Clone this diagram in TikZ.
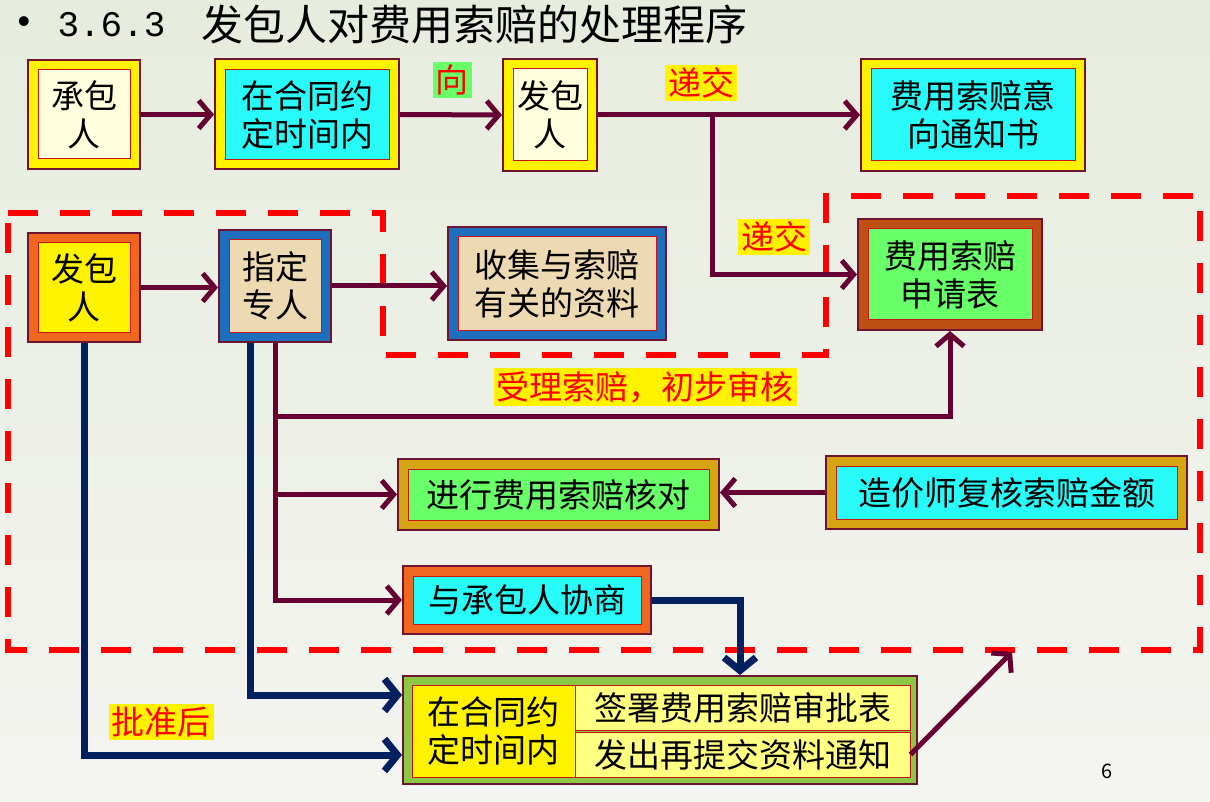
\documentclass[tikz,border=0pt]{standalone}
\usepackage{fontspec}
\newfontfamily\cjk{Noto Sans CJK SC}
\newfontfamily\mono{Liberation Mono}
\newfontfamily\lat{Liberation Sans}
\usetikzlibrary{arrows.meta,positioning}
\definecolor{arrowred}{RGB}{102,0,51}
\definecolor{arrowblue}{RGB}{0,32,96}
\definecolor{edge}{RGB}{110,20,50}
\definecolor{inred}{RGB}{200,20,20}
\definecolor{cream}{RGB}{255,255,222}
\definecolor{aqua}{RGB}{40,250,250}
\definecolor{orangeframe}{RGB}{240,104,32}
\definecolor{blueframe}{RGB}{30,110,190}
\definecolor{parch}{RGB}{238,218,178}
\definecolor{brownframe}{RGB}{190,80,20}
\definecolor{lgreen}{RGB}{104,255,104}
\definecolor{gold}{RGB}{215,165,20}
\definecolor{pzgreen}{RGB}{140,200,70}
\definecolor{lyellow}{RGB}{255,255,130}
\definecolor{bgtop}{RGB}{230,236,222}
\definecolor{bgbot}{RGB}{244,244,240}
\tikzset{
    flow/.style={x=1pt,y=-1pt,font=\cjk\fontsize{33}{38}\selectfont},
    bevbox/.style 2 args={rectangle,align=center,inner sep=0pt,outer sep=11pt,
                     fill=#2,draw=inred,line width=1pt,
                     preaction={draw=edge,line width=22pt},
                     preaction={draw=#1,line width=18pt}},
    cell/.style={rectangle,draw=inred,line width=1pt,inner sep=0pt,align=center},
    tag/.style={fill=yellow,text=red,inner sep=3pt},
    mline/.style={draw=arrowred,line width=5pt,>={Straight Barb[length=12pt,width=28pt]}},
    nline/.style={draw=arrowblue,line width=7pt,>={Straight Barb[length=13pt,width=32pt]}},
    cut/.style={draw=red,line width=6pt,dash pattern=on 30pt off 22pt},
    }
\begin{document}
\begin{tikzpicture}[flow]
            \useasboundingbox (0,0) rectangle (1210,802);
            \fill[top color=bgtop,bottom color=bgbot] (0,0) rectangle (1210,802);

            \node (blt) at (24,25) {\lat\fontsize{36}{36}\selectfont •};
            \node[anchor=west] (num) at (54,25) {\mono\fontsize{36}{40}\selectfont 3.6.3};
            \node[anchor=west] (ttl) at (198,25) {\fontsize{42}{48}\selectfont 发包人对费用索赔的处理程序};

            % dashed area
            \draw[cut] (8,213) -- (383,213) -- (383,355) -- (826,355) -- (826,196)
                -- (1200,196) -- (1200,650) -- (8,650) -- cycle;

            \node[bevbox={yellow}{cream}, minimum width=92pt, minimum height=89pt] (cbr) at (84,114.5) {承包\\人};
            \node[bevbox={yellow}{aqua}, minimum width=164pt, minimum height=90pt] (zdsj) at (307,114.5) {在合同约\\定时间内};
            \node[bevbox={yellow}{cream}, minimum width=74pt, minimum height=92pt] (fbr1) at (550,115) {发包\\人};
            \node[bevbox={yellow}{aqua}, minimum width=204pt, minimum height=92pt] (yxtzs) at (973,115) {费用索赔意\\向通知书};

            \node[bevbox={orangeframe}{yellow}, minimum width=92pt, minimum height=89pt] (fbr2) at (84,287.5) {发包\\人};
            \node[bevbox={blueframe}{parch}, minimum width=92pt, minimum height=92pt] (zdzr) at (275,286) {指定\\专人};
            \node[bevbox={blueframe}{parch}, minimum width=198pt, minimum height=93pt] (sjzl) at (557,283.5) {收集与索赔\\有关的资料};
            \node[bevbox={brownframe}{lgreen}, minimum width=164pt, minimum height=91pt] (sqb) at (950,274.5) {费用索赔\\申请表};

            \node[bevbox={gold}{lgreen}, minimum width=301pt, minimum height=51pt] (hd) at (558.5,494.5) {进行费用索赔核对};
            \node[bevbox={gold}{aqua}, minimum width=341pt, minimum height=53pt] (fh) at (1006.5,492.5) {造价师复核索赔金额};
            \node[bevbox={orangeframe}{aqua}, minimum width=228pt, minimum height=48pt] (xs) at (527,600) {与承包人协商};

            \node[draw=edge, line width=2pt, fill=pzgreen, minimum width=514pt, minimum height=108pt] (pz) at (660,730) {};
            \node[cell, fill=yellow, minimum width=163pt, minimum height=92pt] (yl) at (493.5,731) {在合同约\\定时间内};
            \node[cell, fill=lyellow, minimum width=335pt, minimum height=45pt] (rt) at (742.5,707.5) {签署费用索赔审批表};
            \node[cell, fill=lyellow, minimum width=335pt, minimum height=45pt] (rb) at (742.5,754.5) {发出再提交资料通知};

            \coordinate (j1) at (712,115);
            \coordinate (sl) at (275,416);
            \coordinate (dz) at (1012,652);

            \draw[mline,->] (cbr.east) -- (zdsj.west);
            \draw[mline,->] (zdsj.east) -- (fbr1.west);
            \draw[mline,->] (fbr1.east) -- (yxtzs.west);
            \draw[mline,->] (j1) |- (sqb.west);

            \draw[mline,->] (fbr2.east) -- (zdzr.west |- fbr2.east);
            \draw[mline,->] (zdzr.east) -- (sjzl.west |- zdzr.east);

            \draw[nline,->] (fbr2.south) |- (pz.west |- 0,755);
            \draw[nline,->] ([xshift=-25pt]zdzr.south) |- (pz.west |- 0,695);

            \draw[mline,->] (zdzr.south) |- (xs.west);
            \draw[mline,->] (sl) -| (sqb.south);
            \draw[mline,->] (zdzr.south |- hd.west) -- (hd.west);
            \draw[mline,->] (fh.west) -- (hd.east |- fh.west);

            \draw[nline,->] (xs.east) -| ([xshift=80pt]pz.north);
            \draw[mline,->] (rb.east) -- (dz);

            \node[tag, fill=lgreen] (lx) at (452,80) {向};
            \node[tag] (ld1) at (701,83) {递交};
            \node[tag] (ld2) at (774,237) {递交};
            \node[tag] (ls) at (645,387) {受理索赔，初步审核};
            \node[tag] (lp) at (161,722) {批准后};

            \node (pg) at (1107,771) {\fontsize{20}{22}\selectfont 6};
        \end{tikzpicture}
\end{document}
